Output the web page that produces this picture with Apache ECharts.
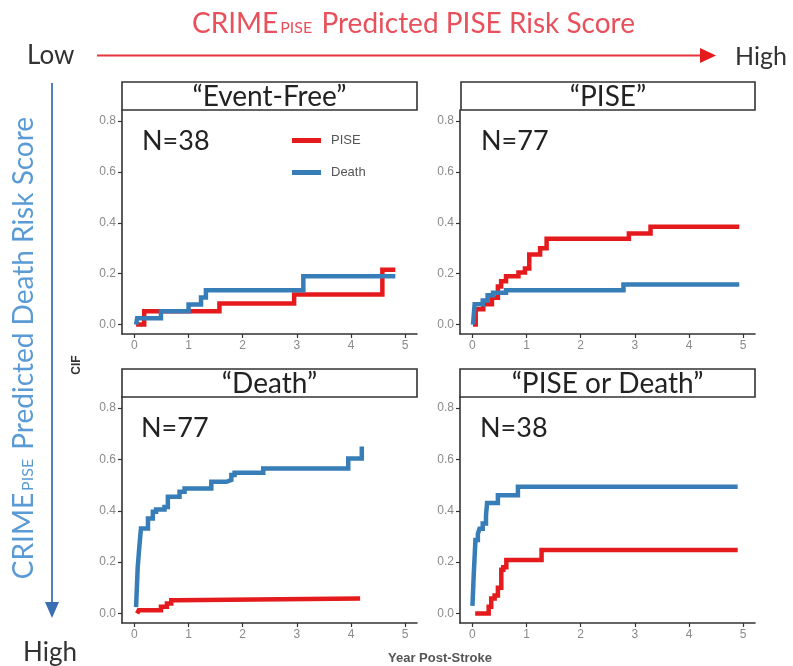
<!DOCTYPE html>
<html>
<head>
<meta charset="utf-8">
<script src="https://cdn.jsdelivr.net/npm/echarts@6/dist/echarts.min.js"></script>
<style>
html,body{margin:0;padding:0;background:#fff;}
#chart{width:793px;height:666px;}
</style>
</head>
<body>
<div id="chart"></div>
<script>
// ---- data ----
const xTicks = [0, 1, 2, 3, 4, 5];
const yTicks = [0, 0.2, 0.4, 0.6, 0.8];
const seriesNames = ['PISE', 'Death'];
const panelTitles = ['“Event-Free”', '“PISE”', '“Death”', '“PISE or Death”'];
const panelN = ['N=38', 'N=77', 'N=77', 'N=38'];

// [year, CIF] step points
const eventFreePISE = [[0.03,0],[0.18,0.052],[1.57,0.083],[2.95,0.118],[4.58,0.215],[4.82,0.215]];
const eventFreeDeath = [[0.03,0],[0.05,0.025],[0.49,0.052],[1.0,0.079],[1.23,0.106],[1.32,0.135],[3.12,0.19],[4.82,0.19]];

const pisePISE = [[0.01,0],[0.06,0.06],[0.2,0.08],[0.36,0.105],[0.47,0.15],[0.53,0.17],[0.62,0.19],[0.85,0.205],[0.97,0.22],[1.05,0.275],[1.25,0.3],[1.37,0.337],[2.89,0.358],[3.29,0.384],[4.93,0.384]];
const piseDeath = [[0.01,0],[0.04,0.08],[0.19,0.095],[0.28,0.115],[0.38,0.125],[0.62,0.135],[2.79,0.157],[4.93,0.157]];

const deathPISE = [[0.05,0],[0.08,0.013],[0.49,0.026],[0.6,0.039],[0.68,0.052],[0.77,0.058],[4.17,0.058]];
const deathDeath = [[0.03,0.025],[0.06,0.18],[0.09,0.26],[0.12,0.331],[0.25,0.37],[0.34,0.396],[0.40,0.405],[0.555,0.415],[0.617,0.455],[0.833,0.474],[0.926,0.487],[1.42,0.513],[1.70,0.52],[1.79,0.539],[1.85,0.548],[2.38,0.565],[3.95,0.604],[4.2,0.65]];

const eitherPISE = [[0.05,0],[0.30,0.026],[0.347,0.058],[0.41,0.07],[0.47,0.1],[0.533,0.17],[0.57,0.18],[0.626,0.208],[1.277,0.247],[4.9,0.247]];
const eitherDeath = [[0.0,0.03],[0.025,0.156],[0.055,0.286],[0.1,0.31],[0.13,0.33],[0.19,0.35],[0.25,0.38],[0.27,0.43],[0.47,0.46],[0.84,0.494],[4.9,0.494]];

const panelData = [
  [eventFreePISE, eventFreeDeath],
  [pisePISE, piseDeath],
  [deathPISE, deathDeath],
  [eitherPISE, eitherDeath]
];

// ---- layout ----
const RED = '#E41A1C', BLUE = '#377EB8';
const grids = [
  {left:122, top:110, width:295, height:224},
  {left:460, top:110, width:295, height:224},
  {left:122, top:397, width:295, height:226},
  {left:460, top:397, width:295, height:226}
];
const stripBoxes = [
  {x:122, y:82, w:295, h:28},
  {x:461, y:82, w:294, h:28},
  {x:122, y:369, w:295, h:28},
  {x:460, y:369, w:295, h:28}
];
const nPos = [[142,141],[481,141],[141,428],[480,428]];

const axisCommon = {
  axisLine: {show:true, onZero:false, lineStyle:{color:'#333', width:1.6}},
  axisTick: {show:true, length:4, lineStyle:{color:'#333', width:1.2}},
  splitLine: {show:false}
};

const xAxes = grids.map((g, i) => Object.assign({}, axisCommon, {
  type:'value', gridIndex:i, min:-0.23, max:5.22,
  axisTick: Object.assign({}, axisCommon.axisTick, {customValues: xTicks}),
  axisLabel: {customValues: xTicks, color:'#8a8a8a', fontSize:12, fontFamily:'Liberation Sans', margin:6,
    formatter: v => String(v)}
}));
const yAxes = grids.map((g, i) => Object.assign({}, axisCommon, {
  type:'value', gridIndex:i, min:-0.037, max:0.843,
  axisTick: Object.assign({}, axisCommon.axisTick, {customValues: yTicks}),
  axisLabel: {customValues: yTicks, color:'#8a8a8a', fontSize:12, fontFamily:'Liberation Sans', margin:6,
    formatter: v => v.toFixed(1)}
}));

const series = [];
panelData.forEach((pair, i) => {
  pair.forEach((d, k) => {
    series.push({
      name: seriesNames[k], type:'line', step:'end',
      xAxisIndex:i, yAxisIndex:i, data:d, symbol:'none',
      lineStyle:{color: k===0 ? RED : BLUE, width:4.5, cap:'butt', join:'miter'},
      itemStyle:{color: k===0 ? RED : BLUE},
      z: 2 + k, silent:true, animation:false
    });
  });
});

const graphics = [];
stripBoxes.forEach((b, i) => {
  graphics.push({type:'rect', shape:{x:b.x, y:b.y, width:b.w, height:b.h},
    style:{fill:'#fff', stroke:'#333', lineWidth:1.6}, z:10});
  graphics.push({type:'text', x:b.x + b.w/2, y:b.y + b.h/2 + 1, z:11,
    style:{text:panelTitles[i], font:'28px Lato', fill:'#222', align:'center', verticalAlign:'middle'}});
});
nPos.forEach((p, i) => {
  graphics.push({type:'text', x:p[0], y:p[1], z:11,
    style:{text:panelN[i], font:'27px Lato', fill:'#222', align:'left', verticalAlign:'middle'}});
});
// top title
graphics.push({type:'text', x:192, y:24, z:11,
  style:{text:'{a|CRIME}{b|PISE}{a| Predicted PISE Risk Score}', align:'left', verticalAlign:'middle',
    rich:{a:{fontSize:28, fontFamily:'Lato', fill:'#E8505B'},
          b:{fontSize:16, fontFamily:'Lato', fill:'#E8505B', verticalAlign:'bottom', padding:[0,2,2,2]}}}});
graphics.push({type:'text', x:27, y:56, z:11,
  style:{text:'Low', font:'26px Lato', fill:'#333', align:'left', verticalAlign:'middle'}});
graphics.push({type:'text', x:735, y:57, z:11,
  style:{text:'High', font:'25px Lato', fill:'#333', align:'left', verticalAlign:'middle'}});
graphics.push({type:'line', shape:{x1:97, y1:55.5, x2:703, y2:55.5}, style:{stroke:'#E8343C', lineWidth:2}, z:11});
graphics.push({type:'polygon', shape:{points:[[700,48],[716,55.5],[700,63]]}, style:{fill:'#E41A1C'}, z:11});
// left vertical
graphics.push({type:'line', shape:{x1:52, y1:83, x2:52, y2:605}, style:{stroke:'#4F81BD', lineWidth:2}, z:11});
graphics.push({type:'polygon', shape:{points:[[45,602],[59,602],[52,618]]}, style:{fill:'#3C6EB4'}, z:11});
graphics.push({type:'text', x:24, y:348, rotation:Math.PI/2, z:11,
  style:{text:'{a|CRIME}{b|PISE}{a| Predicted Death Risk Score}', align:'center', verticalAlign:'middle',
    rich:{a:{fontSize:28, fontFamily:'Lato', fill:'#5B9BD5'},
          b:{fontSize:16, fontFamily:'Lato', fill:'#5B9BD5', verticalAlign:'bottom', padding:[0,2,2,2]}}}});
graphics.push({type:'text', x:23, y:653, z:11,
  style:{text:'High', font:'26px Lato', fill:'#333', align:'left', verticalAlign:'middle'}});
// axis titles
graphics.push({type:'text', x:77, y:365, rotation:Math.PI/2, z:11,
  style:{text:'CIF', font:'bold 12px Liberation Sans', fill:'#333', align:'center', verticalAlign:'middle'}});
graphics.push({type:'text', x:440, y:658, z:11,
  style:{text:'Year Post-Stroke', font:'bold 13px Liberation Sans', fill:'#555', align:'center', verticalAlign:'middle'}});

const option = {
  animation:false,
  backgroundColor:'#fff',
  grid: grids,
  xAxis: xAxes,
  yAxis: yAxes,
  legend: {
    data: seriesNames, orient:'vertical', left:287, top:129, icon:'rect',
    itemWidth:29, itemHeight:5, itemGap:19, selectedMode:false,
    textStyle:{fontSize:13, color:'#555', fontFamily:'Liberation Sans', padding:[0,0,0,5]}
  },
  series: series,
  graphic: graphics
};

const chart = echarts.init(document.getElementById('chart'), null, {renderer:'canvas'});
chart.setOption(option);
</script>
</body>
</html>
